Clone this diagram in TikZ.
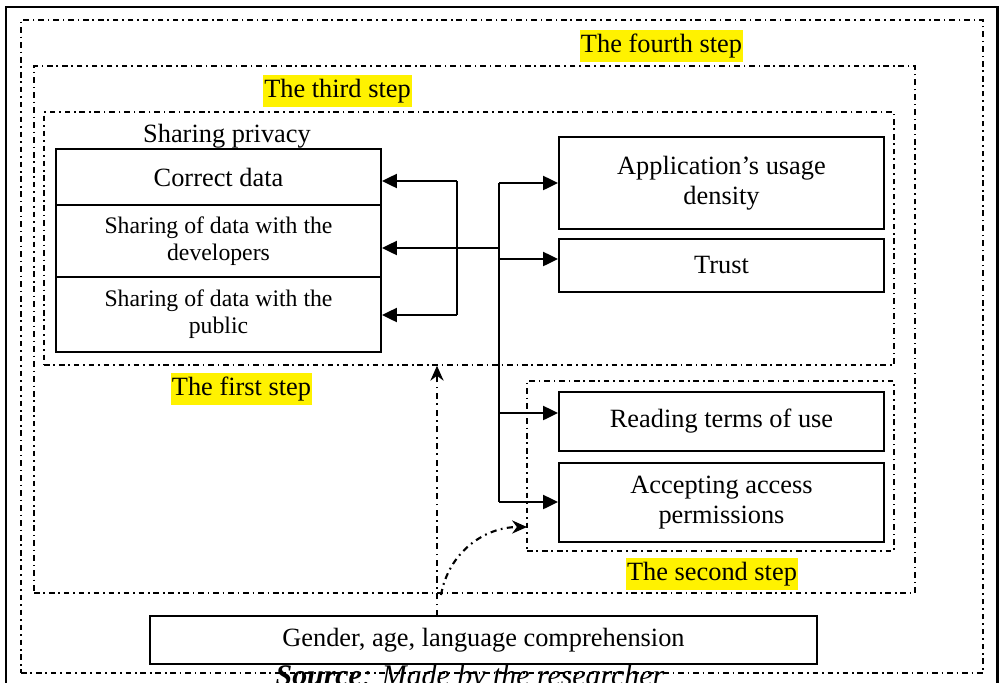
\documentclass[tikz,border=0pt]{standalone}
\usepackage{fontspec}
\setmainfont{Liberation Serif}
\usetikzlibrary{arrows.meta}
\usetikzlibrary{positioning}

\begin{document}
\begin{tikzpicture}[x=0.2mm,y=-0.2mm,>=Stealth,
		font=\fontsize{15}{17}\selectfont,
		box/.style={draw,line width=1.1pt,minimum width=65mm,align=center,inner sep=2pt},
		smalltext/.style={font=\fontsize{13.5}{15.3}\selectfont},
		frameline/.style={draw,line width=0.8pt,dash pattern=on 3.2pt off 2.2pt on 0.9pt off 2.2pt},
		steplabel/.style={fill=yellow,inner xsep=0.5pt,inner ysep=2.4pt},
		flow/.style={-{Triangle[length=8.5pt,width=8pt]},line width=1.1pt},
		hint/.style={-{Stealth[length=8.5pt,width=7.5pt]},line width=1.2pt,dash pattern=on 3.5pt off 2.5pt on 1pt off 2.5pt}]
	\useasboundingbox (0,0) rectangle (999,682);
	\clip (0,0) rectangle (999,682);
	% frames of the steps
	\draw[line width=1.7pt] (6,7) rectangle (997,720);
	\node[frameline,minimum width=192.4mm,minimum height=130.6mm] (fourth) at (502,346.5) {};
	\node[frameline,minimum width=176.2mm,minimum height=105.4mm] (third) at (474.5,329.5) {};
	\node[frameline,minimum width=170mm,minimum height=50.6mm] (first) at (469,238.5) {};
	\node[frameline,minimum width=73.4mm,minimum height=34mm] (second) at (710.5,466) {};
	\node[steplabel] (fourthlbl) at (661.5,46) {The fourth step};
	\node[steplabel] (thirdlbl) at (337.5,91) {The third step};
	\node[steplabel] (firstlbl) at (241.5,389) {The first step};
	\node[steplabel] (secondlbl) at (712,574) {The second step};
	% sharing privacy
	\node (privacy) at (227,136) {Sharing privacy};
	\node[box,minimum height=11.2mm] (correct) at (218.5,177) {Correct data};
	\node[box,smalltext,minimum height=14.4mm,below=-1.1pt of correct] (developers) {Sharing of data with the\\developers};
	\node[box,smalltext,minimum height=15mm,below=-1.1pt of developers] (public) {Sharing of data with the\\public};
	% right column
	\node[box,minimum height=18.4mm] (usage) at (721.5,183) {Application's usage\\density};
	\node[box,minimum height=10.6mm,below=1.6mm of usage] (trust) {Trust};
	\node[box,minimum height=11.8mm] (reading) at (721.5,421.5) {Reading terms of use};
	\node[box,minimum height=15.8mm,below=2mm of reading] (accepting) {Accepting access\\permissions};
	\node[box,minimum width=133.4mm,minimum height=9.6mm] (gender) at (483.5,640) {Gender, age, language comprehension};
	\node[anchor=base,font=\fontsize{17}{19}\selectfont] (source) at (470,685) {\textbf{\textit{Source}}\textit{: Made by the researcher}};
	% connectors
	\coordinate (bracktop) at (457,181);
	\coordinate (brackbot) at (457,315);
	\coordinate (hub) at (499,248);
	\coordinate (trunktop) at (499,183);
	\coordinate (trunktrust) at (499,259);
	\coordinate (trunkread) at (499,413);
	\coordinate (trunkbot) at (499,502);
	\draw[line width=1.1pt] (bracktop)--(brackbot);
	\draw[flow] (bracktop)--(correct.east |- bracktop);
	\draw[flow] (brackbot)--(public.east |- brackbot);
	\draw[flow] (hub)--(developers.east |- hub);
	\draw[line width=1.1pt] (trunktop)--(trunkbot);
	\draw[flow] (trunktop)--(usage.west |- trunktop);
	\draw[flow] (trunktrust)--(trust.west |- trunktrust);
	\draw[flow] (trunkread)--(reading.west |- trunkread);
	\draw[flow] (trunkbot)--(accepting.west |- trunkbot);
	% influence of the personal factors
	\coordinate (rise) at (437,616);
	\coordinate (bend) at (441,595);
	\coordinate (perm) at (527,527);
	\draw[hint] (rise)--(rise |- first.south);
	\draw[hint] (bend) to[out=80,in=180] (perm);
\end{tikzpicture}
\end{document}
